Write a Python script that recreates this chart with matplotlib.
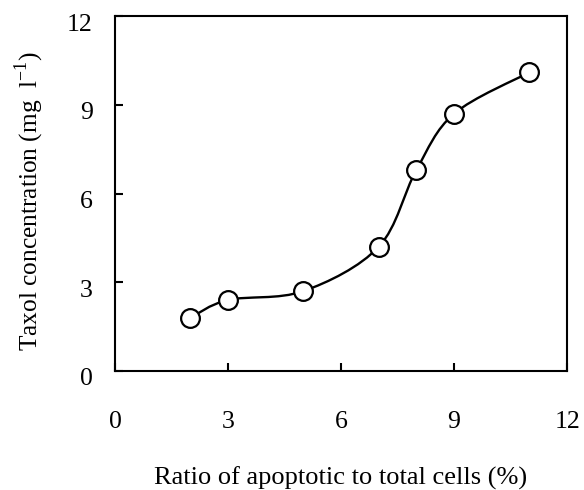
import matplotlib
matplotlib.use("Agg")
import matplotlib.pyplot as plt
from matplotlib.path import Path
from matplotlib.patches import PathPatch
from matplotlib.transforms import ScaledTranslation

plt.rcParams['font.family'] = ['Liberation Serif', 'DejaVu Serif']

ratio = [2, 3, 5, 7, 8, 9, 11]
taxol = [1.8, 2.4, 2.7, 4.2, 6.8, 8.7, 10.1]
xticks = [0, 3, 6, 9, 12]
yticks = [0, 3, 6, 9, 12]

fig = plt.figure(figsize=(5.84, 4.9), dpi=100)
ax = fig.add_axes([0.197, 0.243, 0.774, 0.724])

# smooth curve through data points (Catmull-Rom as cubic Bezier segments)
pts = list(zip(ratio, taxol))
verts = [pts[0]]
codes = [Path.MOVETO]
n = len(pts)
for i in range(n - 1):
    p0 = pts[i - 1] if i > 0 else pts[i]
    p1 = pts[i]
    p2 = pts[i + 1]
    p3 = pts[i + 2] if i + 2 < n else pts[i + 1]
    c1 = (p1[0] + (p2[0] - p0[0]) / 6.0, p1[1] + (p2[1] - p0[1]) / 6.0)
    c2 = (p2[0] - (p3[0] - p1[0]) / 6.0, p2[1] - (p3[1] - p1[1]) / 6.0)
    verts += [c1, c2, p2]
    codes += [Path.CURVE4] * 3
ax.add_patch(PathPatch(Path(verts, codes), fill=False, lw=1.7, color='black', zorder=2))

ax.plot(ratio, taxol, linestyle='none', marker='o', markersize=13.5,
        markerfacecolor='white', markeredgecolor='black', markeredgewidth=1.6, zorder=3)

ax.set_xlim(0, 12)
ax.set_ylim(0, 12)
ax.set_xticks(xticks)
ax.set_yticks(yticks)
for s in ax.spines.values():
    s.set_linewidth(1.5)
ax.tick_params(direction='in', length=6, width=1.5, labelsize=18.5)
ax.tick_params(axis='x', pad=29)
ax.tick_params(axis='y', pad=16)
off = ScaledTranslation(0, -6 / 100, fig.dpi_scale_trans)
for lab in ax.get_yticklabels():
    lab.set_transform(lab.get_transform() + off)

ax.set_xlabel('Ratio of apoptotic to total cells (%)', fontsize=19, labelpad=24)
ax.set_ylabel('Taxol concentration (mg  l$^{\\mathregular{ -1}}$)', fontsize=18.3)
ax.yaxis.set_label_coords(-0.152, 0.478)

fig.savefig('out.png', dpi=100)
